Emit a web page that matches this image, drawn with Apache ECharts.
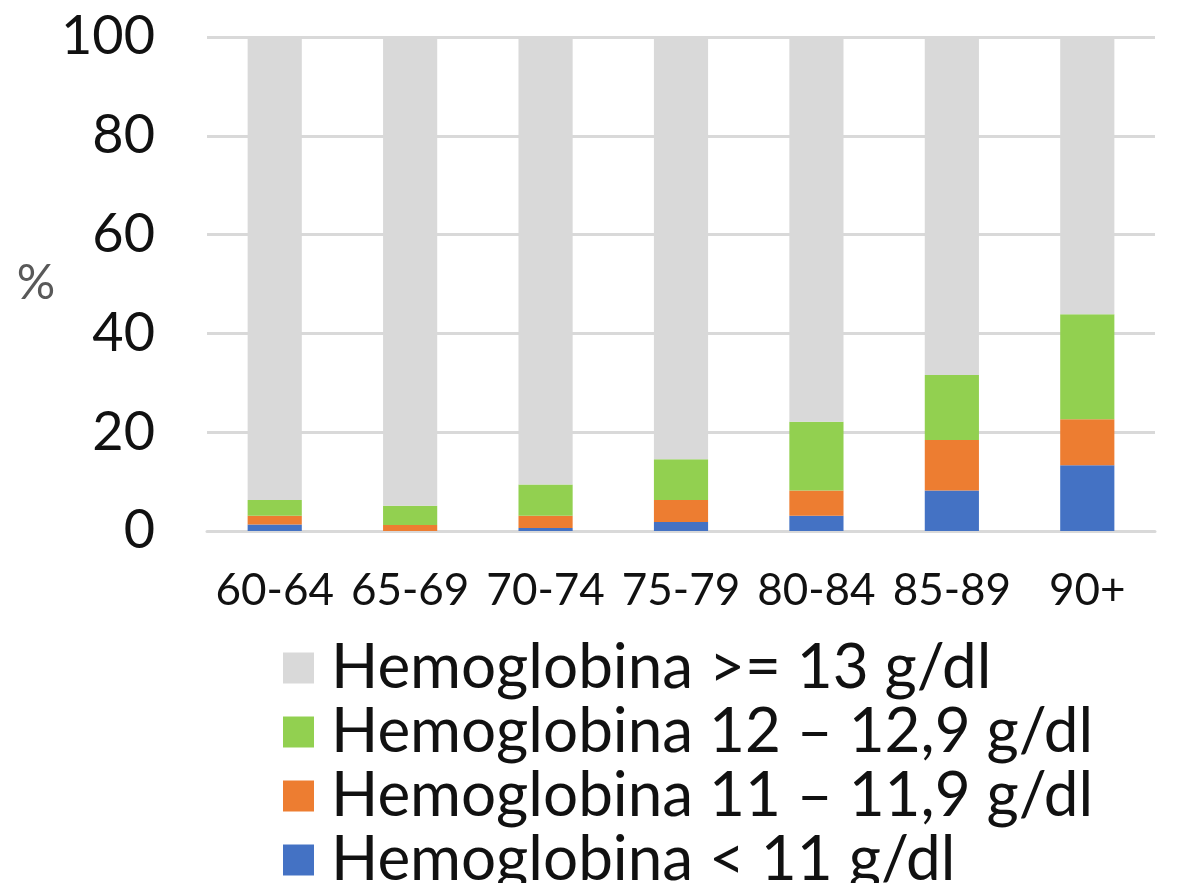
<!DOCTYPE html>
<html>
<head>
<meta charset="utf-8">
<script src="https://cdn.jsdelivr.net/npm/echarts@6/dist/echarts.min.js"></script>
<style>
  html, body { margin: 0; padding: 0; background: #fff; }
  #main { width: 1196px; height: 883px; }
</style>
</head>
<body>
<div id="main"></div>
<script>
// age groups
var ageGroups = ['60-64', '65-69', '70-74', '75-79', '80-84', '85-89', '90+'];
var yTicks = [0, 20, 40, 60, 80, 100];

// % per hemoglobin band
var hbLess11 = [1.3, 0, 0.6, 1.8, 3.1, 8.2, 13.3];
var hb11to119 = [1.8, 1.2, 2.5, 4.5, 5.1, 10.2, 9.3];
var hb12to129 = [3.2, 3.9, 6.3, 8.2, 13.9, 13.2, 21.3];
var hbOver13 = [93.7, 94.9, 90.6, 85.5, 77.9, 68.4, 56.1];

var names = [
	'Hemoglobina >= 13 g/dl',
	'Hemoglobina 12 – 12,9 g/dl',
	'Hemoglobina 11 – 11,9 g/dl',
	'Hemoglobina < 11 g/dl'
];

var font = 'Lato';

function barSeries(name, data, color) {
	return {
		name: name,
		type: 'bar',
		stack: 'hb',
		barWidth: '40%',
		data: data,
		itemStyle: { color: color },
		emphasis: { disabled: true }
	};
}

var myChart = echarts.init(document.getElementById('main'));
myChart.setOption({
	animation: false,
	textStyle: { fontFamily: font },
	grid: {
		left: 207,
		right: 41,
		top: 37,
		bottom: 352
	},
	legend: {
		orient: 'vertical',
		left: 283,
		top: 637,
		height: 320,
		padding: 0,
		itemWidth: 31,
		itemHeight: 31,
		itemGap: 2,
		icon: 'rect',
		data: names,
		textStyle: {
			fontFamily: font,
			fontSize: 62,
			padding: [0, 0, 0, 12],
			color: '#111'
		}
	},
	xAxis: {
		type: 'category',
		data: ageGroups,
		axisTick: { show: false },
		axisLine: { lineStyle: { color: '#D9D9D9', width: 3 } },
		axisLabel: {
			interval: 0,
			fontFamily: font,
			fontSize: 44,
			color: '#111',
			margin: 38
		}
	},
	yAxis: {
		type: 'value',
		min: yTicks[0],
		max: yTicks[yTicks.length - 1],
		interval: 20,
		name: '%',
		nameLocation: 'middle',
		nameRotate: 0,
		nameGap: 145,
		nameTextStyle: {
			fontFamily: font,
			fontSize: 48,
			color: '#595959'
		},
		axisLine: { show: false },
		axisTick: { show: false },
		axisLabel: {
			fontFamily: font,
			fontSize: 54,
			color: '#111',
			margin: 52
		},
		splitLine: { lineStyle: { color: '#D9D9D9', width: 3 } }
	},
	series: [
		barSeries(names[3], hbLess11, '#4472C4'),
		barSeries(names[2], hb11to119, '#ED7D31'),
		barSeries(names[1], hb12to129, '#92D050'),
		barSeries(names[0], hbOver13, '#D9D9D9')
	]
});
</script>
</body>
</html>
